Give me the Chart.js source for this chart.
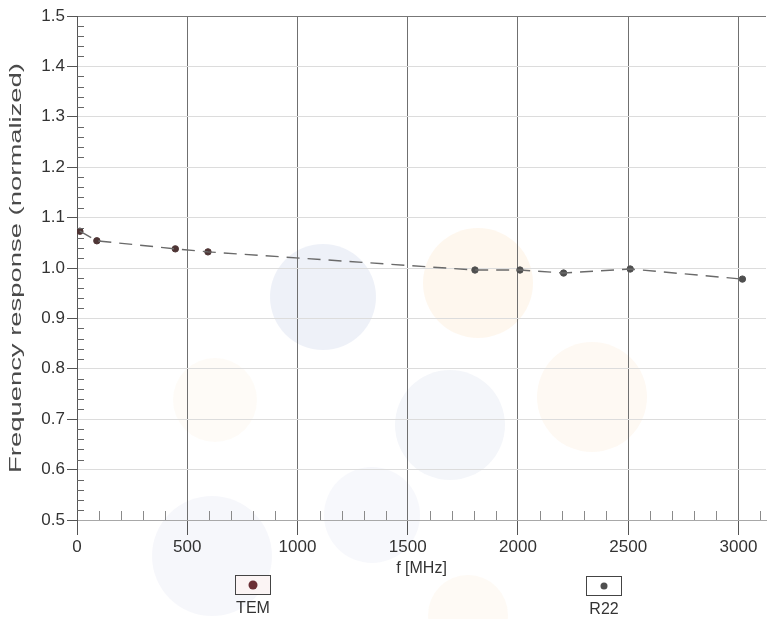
<!DOCTYPE html>
<html>
<head>
<meta charset="utf-8">
<script src="https://cdn.jsdelivr.net/npm/chart.js@4.4.1/dist/chart.umd.min.js"></script>
<style>
  html, body { margin: 0; padding: 0; background: #fff; }
  #wrap { position: relative; width: 771px; height: 619px; }
</style>
</head>
<body>
<div id="wrap"><canvas id="respChart" width="771" height="619"></canvas></div>
<script>
// measured points, frequency in MHz / normalized response
var temFreq = [13, 90, 446, 594];
var temResp = [1.073, 1.054, 1.038, 1.032];
var r22Freq = [1805, 2009, 2207, 2509, 3018];
var r22Resp = [0.996, 0.996, 0.990, 0.998, 0.978];

var xTicks = [0, 500, 1000, 1500, 2000, 2500, 3000];
var yTicks = [0.5, 0.6, 0.7, 0.8, 0.9, 1.0, 1.1, 1.2, 1.3, 1.4, 1.5];

var seriesNames = ["TEM", "R22"];
var seriesColors = ["#4e3535", "#4f4f4f"];

function toPoints(xs, ys) {
  return xs.map(function (x, i) { return { x: x, y: ys[i] }; });
}

var allPoints = toPoints(temFreq, temResp).concat(toPoints(r22Freq, r22Resp));

var fontFamily = "'Liberation Sans', Arial, Helvetica, sans-serif";

// pale round blobs behind the plot
var backdrop = {
  id: 'backdrop',
  beforeDraw: function (chart) {
    var ctx = chart.ctx;
    var blobs = [
      [323, 297, 53, 'rgba(200,208,232,0.30)'],
      [478, 283, 55, 'rgba(250,225,195,0.28)'],
      [592, 397, 55, 'rgba(250,225,195,0.20)'],
      [450, 425, 55, 'rgba(200,208,232,0.20)'],
      [372, 515, 48, 'rgba(200,208,232,0.14)'],
      [212, 556, 60, 'rgba(200,208,232,0.16)'],
      [215, 400, 42, 'rgba(250,225,195,0.14)'],
      [468, 615, 40, 'rgba(250,225,195,0.16)']
    ];
    ctx.save();
    blobs.forEach(function (b) {
      ctx.beginPath();
      ctx.arc(b[0], b[1], b[2], 0, Math.PI * 2);
      ctx.fillStyle = b[3];
      ctx.fill();
    });
    ctx.restore();
  }
};

// minor ticks, stretched y title and the boxed legend
var decorations = {
  id: 'decorations',
  afterDraw: function (chart) {
    var ctx = chart.ctx;
    var xs = chart.scales.x, ys = chart.scales.y;
    var area = chart.chartArea;
    ctx.save();
    ctx.lineWidth = 1;

    ctx.strokeStyle = '#666';
    for (var i = 26; i < 75; i += 1) {
      if (i % 5 === 0) continue;
      var py = Math.round(ys.getPixelForValue(i / 50)) + 0.5;
      ctx.beginPath();
      ctx.moveTo(area.left, py);
      ctx.lineTo(area.left + 7, py);
      ctx.stroke();
    }

    ctx.strokeStyle = '#8a8a8a';
    for (var j = 1; j <= 31; j++) {
      if (j % 5 === 0) continue;
      var px = Math.round(xs.getPixelForValue(j * 100)) + 0.5;
      if (px > area.right) break;
      ctx.beginPath();
      ctx.moveTo(px, area.bottom);
      ctx.lineTo(px, area.bottom - 9);
      ctx.stroke();
    }

    // axis title along y
    var title = 'Frequency response (normalized)';
    ctx.font = '16px ' + fontFamily;
    var w = ctx.measureText(title).width;
    ctx.translate(17, (area.top + area.bottom) / 2);
    ctx.rotate(-Math.PI / 2);
    ctx.scale(410 / w, 1);
    ctx.fillStyle = '#4a4a4a';
    ctx.textAlign = 'center';
    ctx.textBaseline = 'middle';
    ctx.fillText(title, 0, 0);
    ctx.setTransform(1, 0, 0, 1, 0, 0);

    // legend entries
    var slots = [[253, 585], [604, 586]];
    ctx.font = '16px ' + fontFamily;
    seriesNames.forEach(function (name, k) {
      var cx = slots[k][0], cy = slots[k][1];
      ctx.fillStyle = k === 0 ? '#fbf4f4' : '#ffffff';
      ctx.fillRect(cx - 17, cy - 9, 34, 18);
      ctx.strokeStyle = '#444';
      ctx.strokeRect(cx - 17.5, cy - 9.5, 35, 19);
      ctx.beginPath();
      ctx.arc(cx, cy, k === 0 ? 4.5 : 3.5, 0, Math.PI * 2);
      ctx.fillStyle = k === 0 ? '#6a2f35' : seriesColors[1];
      ctx.fill();
      ctx.fillStyle = '#333';
      ctx.textAlign = 'center';
      ctx.textBaseline = 'middle';
      ctx.fillText(name, cx, cy + 24);
    });
    ctx.restore();
  }
};

new Chart(document.getElementById('respChart').getContext('2d'), {
  type: 'scatter',
  data: {
    datasets: [
      {
        label: 'trend',
        data: allPoints,
        showLine: true,
        borderColor: '#6a6a6a',
        borderWidth: 1.4,
        borderDash: [13, 8],
        pointRadius: 0,
        fill: false
      },
      {
        label: seriesNames[0],
        data: toPoints(temFreq, temResp),
        pointRadius: 3.2,
        pointBackgroundColor: seriesColors[0],
        pointBorderColor: seriesColors[0]
      },
      {
        label: seriesNames[1],
        data: toPoints(r22Freq, r22Resp),
        pointRadius: 3.2,
        pointBackgroundColor: seriesColors[1],
        pointBorderColor: seriesColors[1]
      }
    ]
  },
  options: {
    responsive: false,
    animation: false,
    layout: { padding: { left: 0, top: 16, right: 0, bottom: 37 } },
    plugins: {
      legend: { display: false },
      tooltip: { enabled: false }
    },
    scales: {
      x: {
        type: 'linear',
        min: 0,
        max: 3125,
        afterBuildTicks: function (scale) {
          scale.ticks = xTicks.map(function (v) { return { value: v }; });
        },
        afterFit: function (scale) { scale.height = 62; },
        ticks: {
          color: '#333',
          padding: 2,
          maxRotation: 0,
          font: { family: fontFamily, size: 17 },
          callback: function (v) { return String(v); }
        },
        grid: {
          color: function (c) { return c.tick && c.tick.value === 0 ? 'rgba(0,0,0,0)' : '#707070'; },
          tickColor: '#555',
          tickLength: 15,
          lineWidth: 1
        },
        border: { color: '#a8a8a8', width: 1 },
        title: {
          display: true,
          text: 'f [MHz]',
          color: '#333',
          font: { family: fontFamily, size: 16 },
          padding: { top: 0, bottom: 4 }
        }
      },
      y: {
        min: 0.5,
        max: 1.5,
        afterBuildTicks: function (scale) {
          scale.ticks = yTicks.map(function (v) { return { value: v }; });
        },
        afterFit: function (scale) { scale.width = 77; },
        ticks: {
          color: '#333',
          padding: 2,
          font: { family: fontFamily, size: 17 },
          callback: function (v) { return Number(v).toFixed(1); }
        },
        grid: {
          color: function (c) { return c.tick && c.tick.value === 1.5 ? '#777' : '#dcdcdc'; },
          tickColor: '#555',
          tickLength: 10,
          lineWidth: 1
        },
        border: { color: '#555', width: 1 }
      }
    }
  },
  plugins: [backdrop, decorations]
});
</script>
</body>
</html>
